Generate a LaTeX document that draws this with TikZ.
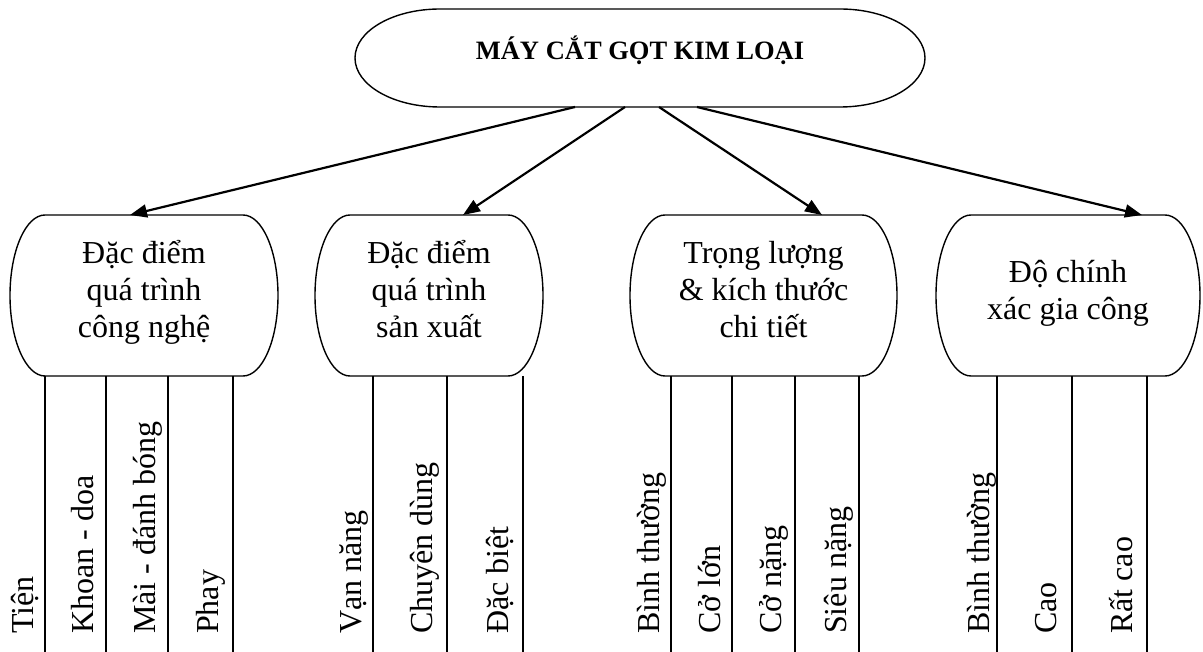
\documentclass[tikz,border=0pt]{standalone}
\usepackage{fontspec}
\setmainfont{Liberation Serif}
\usetikzlibrary{arrows.meta,calc}
\tikzset{
  boxline/.style={line width=1.4pt,black},
  capnode/.style={inner sep=0pt,outer sep=0pt,draw=none,align=center},
  boxfont/.style={font=\fontsize{32}{37}\selectfont},
  vlab/.style={rotate=90,anchor=base west,inner sep=0pt,font=\fontsize{32}{37}\selectfont},
  arr/.style={line width=2.2pt,-{Triangle[length=17pt,width=13pt]}},
  conn/.style={line width=1.4pt}
}
\newcommand\mycapsule[3]{%
  \draw[boxline] ($(#1.north west)+(#2pt,0pt)$) -- ($(#1.north east)+(-#2pt,0pt)$)
    arc[start angle=90,end angle=-90,x radius=#2pt,y radius=#3pt]
    -- ($(#1.south west)+(#2pt,0pt)$)
    arc[start angle=270,end angle=90,x radius=#2pt,y radius=#3pt] -- cycle;}
\newcommand\fs{\rule{0pt}{30pt}}
\newcommand\ls{\rule[-20pt]{0pt}{20pt}}
\begin{document}
\begin{tikzpicture}[x=1pt,y=1pt]
\useasboundingbox (0,0) rectangle (1203,-652);
% top
\node[capnode,minimum width=570pt,minimum height=98pt,
      font=\bfseries\fontsize{26.5}{30}\selectfont,text height=20pt,text depth=16pt]
  (top) at (640,-58) {MÁY CẮT GỌT KIM LOẠI};
\mycapsule{top}{85}{49}
% boxes
\node[capnode,boxfont,minimum width=268pt,minimum height=161pt] (b1) at (144,-295.5)
  {\fs Đặc điểm\\quá trình\\công nghệ\ls};
\node[capnode,boxfont,minimum width=228pt,minimum height=161pt] (b2) at (429,-295.5)
  {\fs Đặc điểm\\quá trình\\sản xuất\ls};
\node[capnode,boxfont,minimum width=267pt,minimum height=161pt] (b3) at (763.5,-295.5)
  {\fs Trọng lượng\\\& kích thước\\chi tiết\ls};
\node[capnode,boxfont,minimum width=264pt,minimum height=161pt] (b4) at (1068,-295.5)
  {\fs Độ chính\\xác gia công\rule[-18pt]{0pt}{18pt}};
\mycapsule{b1}{35}{80.5}
\mycapsule{b2}{35}{80.5}
\mycapsule{b3}{35}{80.5}
\mycapsule{b4}{35}{80.5}
% arrows
\draw[arr] ([xshift=-65pt]top.south) -- ([xshift=-14pt]b1.north);
\draw[arr] ([xshift=-15pt]top.south) -- ([xshift=34pt]b2.north);
\draw[arr] ([xshift=19pt]top.south) -- ([xshift=58.5pt]b3.north);
\draw[arr] ([xshift=57pt]top.south) -- ([xshift=74pt]b4.north);
% line ends
\coordinate (e11) at (45,-652);  \coordinate (e12) at (106,-652);
\coordinate (e13) at (168,-652); \coordinate (e14) at (233,-652);
\coordinate (e21) at (373,-652); \coordinate (e22) at (447,-652);
\coordinate (e23) at (523,-652);
\coordinate (e31) at (671,-652); \coordinate (e32) at (732,-652);
\coordinate (e33) at (795,-652); \coordinate (e34) at (859,-652);
\coordinate (e41) at (997,-652); \coordinate (e42) at (1072,-652);
\coordinate (e43) at (1147,-652);
\foreach \e/\b in {e11/b1,e12/b1,e13/b1,e14/b1,e21/b2,e22/b2,e23/b2,
                   e31/b3,e32/b3,e33/b3,e34/b3,e41/b4,e42/b4,e43/b4}
  \draw[conn] (\e |- \b.south) -- (\e);
% labels
\node[vlab] (t11) at (33,-634) {Tiện};
\node[vlab] (t12) at (93,-634) {Khoan - doa};
\node[vlab] (t13) at (155,-634) {Mài - đánh bóng};
\node[vlab] (t14) at (218,-634) {Phay};
\node[vlab] (t21) at (361,-634) {Vạn năng};
\node[vlab] (t22) at (432,-634) {Chuyên dùng};
\node[vlab] (t23) at (508,-634) {Đặc biệt};
\node[vlab] (t31) at (659,-634) {Bình thường};
\node[vlab] (t32) at (720,-634) {Cở lớn};
\node[vlab] (t33) at (781,-634) {Cở nặng};
\node[vlab] (t34) at (846,-634) {Siêu nặng};
\node[vlab] (t41) at (989,-634) {Bình thường};
\node[vlab] (t42) at (1056,-634) {Cao};
\node[vlab] (t43) at (1132,-634) {Rất cao};
\end{tikzpicture}
\end{document}
